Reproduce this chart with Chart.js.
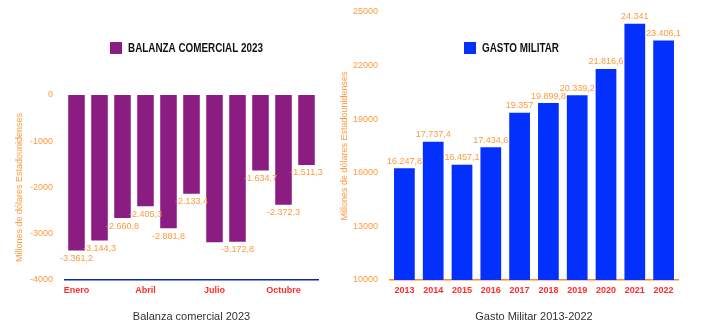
<!DOCTYPE html>
<html lang="es">
<head>
<meta charset="utf-8">
<title>Balanza comercial 2023 y gasto militar 2013-2022</title>
<script src="https://cdn.jsdelivr.net/npm/chart.js@4.4.1/dist/chart.umd.min.js"></script>
<style>
  html, body { margin: 0; padding: 0; background: #ffffff; }
  #graficos { position: relative; width: 702px; height: 331px; overflow: hidden; }
  canvas { position: absolute; top: 0; }
  #balanza { left: 0; }
  #gasto { left: 339px; }
</style>
</head>
<body>
<div id="graficos">
  <canvas id="balanza" width="340" height="331"></canvas>
  <canvas id="gasto" width="363" height="331"></canvas>
</div>
<script>
// ======================================================
// DATOS
// ======================================================

const meses = ["Enero", "Febrero", "Marzo", "Abril", "Mayo", "Junio",
               "Julio", "Agosto", "Septiembre", "Octubre", "Noviembre"];
const balanzaValores = [-3361.2, -3144.3, -2660.8, -2405.3, -2881.8, -2133.4,
                        -3186, -3172.8, -1634.7, -2372.3, -1511.3];

const anios = ["2013", "2014", "2015", "2016", "2017", "2018", "2019", "2020", "2021", "2022"];
const gastoValores = [16247.8, 17737.4, 16457.1, 17434.6, 19357, 19899.8,
                      20339.2, 21816.6, 24341, 23406.1];

// ======================================================
// ESTILO
// ======================================================

const morado = "#8b1d82";
const azul = "#0330fd";
const naranja = "#ff9a3d";
const rojo = "#ff2b2b";
const fuente = '"Liberation Sans", Arial, Helvetica, sans-serif';
const tituloY = "Millones de dólares Estadounidenses";

// numeros con punto de miles y coma decimal
function formatoES(v) {
    const partes = Math.abs(v).toFixed(1).split(".");
    const entero = partes[0].replace(/\B(?=(\d{3})+(?!\d))/g, ".");
    const decimal = partes[1] !== "0" ? "," + partes[1] : "";
    return (v < 0 ? "-" : "") + entero + decimal;
}

// ======================================================
// PLUGINS
// ======================================================

// leyenda dibujada en una posicion fija del canvas (texto estrecho)
const leyendaFija = {
    id: "leyendaFija",
    afterDraw(chart, args, opts) {
        const ds = chart.data.datasets[0];
        const ctx = chart.ctx;
        ctx.save();
        ctx.fillStyle = ds.backgroundColor;
        ctx.fillRect(opts.x, opts.y - opts.caja / 2, opts.caja, opts.caja);
        ctx.font = "bold 12.5px " + fuente;
        ctx.fillStyle = "#111111";
        ctx.textAlign = "left";
        ctx.textBaseline = "middle";
        ctx.translate(opts.x + opts.caja + 6, opts.y + 1);
        ctx.scale(0.79, 1);
        ctx.fillText(ds.label, 0, 0);
        ctx.restore();
    }
};

// etiquetas de valor en el extremo de cada barra (se ocultan si se pisan)
const etiquetasValor = {
    id: "etiquetasValor",
    afterDatasetsDraw(chart, args, opts) {
        const ctx = chart.ctx;
        const meta = chart.getDatasetMeta(0);
        const valores = chart.data.datasets[0].data;
        const usadas = [];
        ctx.save();
        ctx.font = "9px " + fuente;
        ctx.fillStyle = naranja;
        ctx.textAlign = "center";
        ctx.textBaseline = "middle";
        for (let i = meta.data.length - 1; i >= 0; i--) {
            const barra = meta.data[i];
            const texto = formatoES(valores[i]);
            const w = ctx.measureText(texto).width;
            const y = valores[i] < 0 ? barra.y + opts.separacion : barra.y - opts.separacion;
            const caja = { l: barra.x - w / 2, r: barra.x + w / 2, t: y - 3.5, b: y + 3.5 };
            const choca = usadas.some(function (u) {
                return caja.l < u.r && caja.r > u.l && caja.t < u.b && caja.b > u.t;
            });
            if (choca) continue;
            usadas.push(caja);
            ctx.fillText(texto, barra.x, y);
        }
        ctx.restore();
    }
};

// ======================================================
// OPCIONES COMUNES
// ======================================================

function ejeY(min, max, paso, anchoEje) {
    return {
        min: min,
        max: max,
        grid: { display: false, drawTicks: false },
        border: { display: false },
        ticks: {
            stepSize: paso,
            padding: 12,
            color: naranja,
            font: { family: fuente, size: 9 },
            callback: function (v) { return String(v); }
        },
        title: {
            display: true,
            text: tituloY,
            color: naranja,
            padding: { top: 0, bottom: 0 },
            font: { family: fuente, size: 9 }
        },
        afterFit: function (scale) {
            // ancho fijo y sin reserva extra arriba/abajo para las etiquetas
            scale.width = anchoEje;
            scale.paddingTop = 0;
            scale.paddingBottom = 0;
        }
    };
}

function ejeX(colorLinea, textoTitulo, callback) {
    return {
        grid: { display: false, drawTicks: false },
        border: { display: true, color: colorLinea, width: 1.5 },
        ticks: {
            autoSkip: false,
            maxRotation: 0,
            padding: 5,
            color: rojo,
            font: { family: fuente, size: 9, weight: "bold" },
            callback: callback
        },
        title: {
            display: true,
            text: textoTitulo,
            color: "#333333",
            padding: { top: 0, bottom: 7 },
            font: { family: fuente, size: 11 }
        },
        afterFit: function (scale) { scale.height = 51; }
    };
}

// ======================================================
// BALANZA COMERCIAL 2023
// ======================================================

new Chart(document.getElementById("balanza"), {
    type: "bar",
    data: {
        labels: meses,
        datasets: [{
            label: "BALANZA COMERCIAL 2023",
            data: balanzaValores,
            backgroundColor: morado
        }]
    },
    options: {
        responsive: false,
        animation: false,
        layout: { padding: { left: 14, right: 22, top: 95, bottom: 0 } },
        plugins: {
            legend: { display: false },
            tooltip: { enabled: false },
            leyendaFija: { x: 110, y: 48, caja: 12 },
            etiquetasValor: { separacion: 8 }
        },
        scales: {
            x: ejeX("#0a2a9c", "Balanza comercial 2023", function (v, i) {
                return i % 3 === 0 ? meses[i] : "";
            }),
            y: ejeY(-4000, 0, 1000, 51)
        }
    },
    plugins: [leyendaFija, etiquetasValor]
});

// ======================================================
// GASTO MILITAR 2013-2022
// ======================================================

new Chart(document.getElementById("gasto"), {
    type: "bar",
    data: {
        labels: anios,
        datasets: [{
            label: "GASTO MILITAR",
            data: gastoValores,
            backgroundColor: azul
        }]
    },
    options: {
        responsive: false,
        animation: false,
        layout: { padding: { left: 0, right: 24, top: 12, bottom: 0 } },
        plugins: {
            legend: { display: false },
            tooltip: { enabled: false },
            leyendaFija: { x: 125, y: 48, caja: 12 },
            etiquetasValor: { separacion: 7 }
        },
        scales: {
            x: ejeX("#ff8a1e", "Gasto Militar 2013-2022", function (v, i) {
                return anios[i];
            }),
            y: ejeY(10000, 25000, 3000, 51)
        }
    },
    plugins: [leyendaFija, etiquetasValor]
});
</script>
</body>
</html>
